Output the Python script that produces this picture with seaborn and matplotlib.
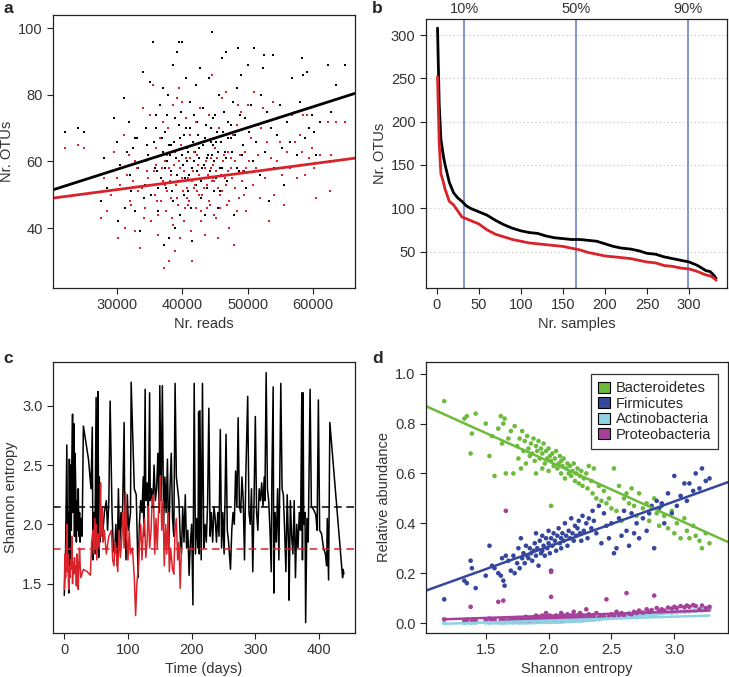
import numpy as np
import pandas as pd
import matplotlib
matplotlib.use("Agg")
import matplotlib.pyplot as plt
import seaborn as sns
from matplotlib.patches import Patch

# ---------------- data ----------------
# panel a: reads per sample and OTU counts (black / red)
reads = [22000, 24000, 25000, 27500, 28000, 28500, 29500, 30000, 30200, 31000,
         31200, 31800, 32000, 32500, 32800, 33000, 33500, 33800, 34000, 34300,
         34500, 34800, 35000, 35200, 35500, 35600, 35800, 36000, 36200, 36500,
         36700, 37000, 37100, 37200, 37400, 37500, 37700, 37800, 38000, 38200,
         38300, 38500, 38600, 38800, 38900, 39000, 39200, 39300, 39500, 39600,
         39700, 39800, 40000, 40100, 40300, 40500, 40600, 40800, 41000, 41200,
         41300, 41500, 41600, 41800, 42000, 42100, 42300, 42500, 42700, 42800,
         43000, 43200, 43400, 43500, 43700, 44000, 44100, 44300, 44500, 44600,
         44800, 45000, 45200, 45400, 45600, 45800, 46000, 46200, 46500, 46700,
         46800, 47000, 47200, 47500, 47700, 47900, 48000, 48300, 48500, 48700,
         49000, 49200, 49500, 49700, 50000, 50200, 50500, 50800, 51000, 51200,
         51500, 51800, 52000, 52300, 52500, 52700, 53000, 53300, 53500, 53800,
         54000, 54500, 55000, 55200, 55500, 56000, 56500, 56800, 57200, 57500,
         58000, 58300, 58500, 58700, 59000, 59300, 59800, 60200, 60500, 61000,
         62200, 62500, 62700, 63500, 64800, 33200, 34100, 34600, 35300, 35900,
         36300, 36800, 37300, 37600, 38100, 38400, 38700, 39100, 39400, 39900,
         40200, 40400, 40700, 40900, 41100, 41400, 41700, 41900, 42200, 42400,
         42600, 42900, 43100, 43300, 43600, 43900, 44200, 44400, 44700, 44900,
         45100, 45300, 45500, 45700, 45900, 46100, 46400, 46600, 46900, 47100,
         47400, 47600, 48100, 48400, 48800, 49100, 49400, 49800, 30500, 31500,
         32200, 32700, 29000, 36100, 37900, 40650, 43800, 44650]
otus_black = [69, 70, 69, 48, 61, 52, 73, 66, 42, 79,
              46, 72, 56, 64, 45, 67, 39, 60, 87, 53,
              70, 62, 84, 50, 96, 66, 58, 74, 45, 77,
              55, 82, 63, 35, 69, 52, 60, 80, 37, 65,
              57, 89, 48, 73, 40, 61, 93, 54, 96, 67,
              44, 75, 96, 59, 50, 70, 85, 63, 56, 78,
              46, 36, 66, 60, 83, 53, 72, 64, 88, 49,
              58, 76, 67, 44, 61, 85, 55, 70, 99, 62,
              51, 74, 66, 46, 80, 58, 91, 69, 63, 93,
              54, 72, 48, 67, 78, 44, 60, 82, 94, 57,
              86, 65, 73, 52, 89, 69, 77, 60, 94, 66,
              71, 56, 80, 88, 92, 63, 75, 48, 70, 92,
              58, 68, 77, 64, 53, 72, 66, 85, 75, 62,
              78, 91, 86, 67, 87, 70, 74, 69, 62, 72,
              89, 60, 75, 83, 89, 58, 49, 65, 61, 70,
              52, 67, 58, 74, 62, 51, 66, 56, 71, 62,
              68, 55, 64, 51, 70, 58, 74, 63, 57, 68,
              61, 54, 65, 59, 71, 62, 57, 66, 73, 60,
              55, 69, 63, 51, 66, 58, 75, 61, 67, 56,
              71, 63, 68, 58, 74, 62, 57, 70, 59, 63,
              51, 67, 57, 57, 65, 60, 52, 65]
otus_red = [64, 65, 64, 43, 55, 45, 63, 55, 37, 68,
            40, 62, 48, 54, 39, 58, 34, 52, 76, 46,
            60, 55, 74, 42, 83, 57, 50, 64, 38, 67,
            48, 72, 54, 28, 60, 45, 51, 70, 30, 56,
            49, 77, 41, 63, 33, 53, 79, 47, 82, 58,
            37, 65, 78, 51, 42, 61, 73, 55, 48, 68,
            39, 30, 57, 52, 72, 46, 62, 56, 76, 42,
            50, 66, 58, 38, 53, 74, 48, 61, 86, 54,
            44, 64, 57, 37, 70, 50, 79, 60, 55, 81,
            47, 63, 40, 58, 68, 35, 52, 71, 77, 49,
            75, 57, 63, 45, 77, 60, 67, 53, 81, 58,
            62, 49, 70, 76, 72, 55, 66, 42, 61, 78,
            50, 60, 66, 56, 47, 63, 58, 74, 66, 55,
            68, 63, 74, 56, 74, 61, 64, 58, 49, 62,
            72, 51, 62, 72, 72, 51, 43, 57, 53, 59,
            44, 58, 53, 62, 54, 43, 59, 49, 60, 55,
            57, 46, 52, 47, 61, 54, 63, 53, 51, 59,
            50, 45, 55, 52, 60, 56, 47, 58, 59, 54,
            43, 61, 52, 46, 56, 51, 62, 53, 57, 48,
            61, 55, 60, 45, 62, 54, 50, 58, 53, 56,
            47, 60, 50, 48, 58, 49, 46, 55]
fit_a_black = [38.83, 0.000627]   # intercept, slope
fit_a_red = [43.76, 0.0002596]

# panel b: OTUs per rank of samples
rank_b = [1, 3, 5, 8, 10, 15, 20, 25, 30, 35, 40, 50, 60, 70, 80, 90, 100, 110,
          120, 130, 140, 150, 160, 170, 180, 190, 200, 210, 220, 230, 240, 250,
          260, 270, 280, 290, 300, 310, 320, 325, 330, 332]
otus_rank_black = [308, 220, 180, 160, 150, 130, 118, 112, 108, 103, 100, 96, 92,
                   86, 81, 77, 74, 72, 71, 68, 66, 65, 64, 64, 63, 62, 59, 56, 54,
                   53, 51, 48, 47, 44, 42, 40, 38, 34, 28, 27, 22, 19]
otus_rank_red = [252, 175, 140, 130, 122, 108, 104, 97, 90, 88, 86, 82, 75, 70,
                 67, 64, 62, 60, 59, 58, 57, 56, 54, 52, 49, 47, 45, 44, 43, 42,
                 40, 38, 37, 34, 33, 31, 30, 27, 23, 22, 19, 17]
quantile_pos = [33, 166, 299]
quantile_labels = ["10%", "50%", "90%"]

# panel c: Shannon entropy over time
days_black = [0, 2, 4, 5, 6, 7, 8, 9, 10, 11, 12, 13, 14, 15, 16, 17, 18, 19, 20,
              21, 22, 23, 24, 25, 26, 28, 30, 38, 42, 44, 45, 47, 48, 50, 51, 52,
              53, 54, 55, 56, 58, 60, 63, 66, 68, 70, 72, 75, 77, 79, 81, 83, 85,
              87, 89, 91, 94, 95, 97, 99, 101, 104, 105, 110, 113, 116, 118, 120,
              122, 124, 125, 127, 128, 130, 132, 134, 135, 137, 139, 141, 143,
              145, 147, 149, 150, 152, 154, 156, 158, 160, 162, 164, 166, 168,
              170, 172, 174, 176, 178, 180, 182, 184, 186, 188, 190, 192, 194,
              196, 198, 200, 202, 204, 206, 208, 210, 211, 212, 213, 215, 217,
              219, 221, 223, 225, 227, 229, 231, 233, 235, 237, 239, 241, 243,
              245, 247, 249, 251, 254, 256, 258, 261, 263, 265, 267, 269, 271,
              273, 275, 277, 279, 281, 283, 285, 288, 290, 292, 294, 296, 298,
              300, 302, 304, 306, 308, 310, 312, 314, 315, 317, 319, 321, 323,
              325, 326, 328, 329, 331, 333, 335, 337, 340, 342, 344, 346, 348,
              350, 352, 353, 355, 357, 359, 361, 363, 365, 367, 369, 371, 373,
              374, 375, 376, 378, 379, 381, 383, 386, 388, 392, 395, 397, 399,
              401, 404, 407, 410, 412, 413, 415, 417, 437, 438, 439]
entropy_black = [1.40, 1.75, 2.67, 1.90, 2.10, 1.42, 2.55, 1.70, 2.50, 1.95, 2.60,
                 2.93, 2.10, 2.85, 1.90, 2.60, 2.30, 1.85, 2.20, 1.95, 2.30, 1.90,
                 2.10, 1.85, 2.05, 1.90, 2.83, 2.55, 2.30, 2.82, 1.70, 2.10, 1.75,
                 3.07, 2.00, 1.80, 3.12, 1.72, 2.40, 1.85, 2.00, 1.90, 2.10, 2.20,
                 1.95, 2.20, 3.04, 2.10, 1.80, 1.75, 2.00, 1.65, 2.30, 1.80, 2.10,
                 1.95, 2.86, 2.05, 1.70, 2.25, 1.95, 2.10, 3.20, 2.30, 2.25, 1.55,
                 2.00, 2.20, 2.10, 2.40, 1.90, 3.14, 2.20, 2.35, 2.05, 3.11, 2.20,
                 2.30, 2.15, 2.50, 2.20, 2.30, 2.60, 2.10, 3.17, 2.20, 3.17, 2.00,
                 2.40, 2.10, 2.55, 1.80, 2.30, 2.60, 2.05, 1.90, 3.19, 2.40, 2.30,
                 2.20, 1.90, 1.75, 2.15, 1.85, 2.25, 1.80, 1.95, 1.57, 1.85, 2.00,
                 1.32, 3.19, 1.75, 2.05, 1.80, 2.95, 1.75, 2.96, 1.70, 3.19, 1.80,
                 2.00, 1.85, 2.15, 2.98, 1.90, 2.10, 1.85, 2.15, 2.05, 1.85, 2.10,
                 1.90, 2.80, 1.80, 2.10, 1.75, 2.76, 1.95, 1.85, 1.62, 1.95, 2.10,
                 2.00, 2.45, 2.15, 2.90, 2.15, 2.10, 2.40, 2.20, 1.70, 2.40, 3.08,
                 2.10, 2.00, 2.30, 1.60, 2.20, 2.91, 2.10, 1.95, 2.30, 2.20, 2.35,
                 2.15, 2.40, 2.20, 3.28, 2.30, 2.20, 1.95, 1.60, 2.40, 3.16, 1.42,
                 2.10, 1.85, 2.30, 1.70, 3.19, 2.30, 2.25, 1.95, 1.60, 2.25, 1.85,
                 1.36, 2.20, 1.90, 1.75, 2.20, 1.55, 2.00, 1.80, 2.10, 1.95, 3.11,
                 1.70, 3.11, 2.00, 2.10, 1.17, 2.05, 1.85, 3.14, 2.15, 2.12, 2.08,
                 1.95, 3.05, 1.95, 1.92, 1.80, 1.75, 1.65, 2.05, 1.53, 2.86, 1.55,
                 1.62, 1.58]
days_red = [0, 1, 2, 3, 4, 5, 6, 7, 8, 9, 10, 11, 12, 13, 14, 15, 16, 17, 18, 19,
            20, 21, 22, 23, 24, 25, 26, 30, 36, 41, 43, 45, 46, 48, 49, 50, 51,
            53, 55, 56, 57, 58, 60, 61, 63, 66, 70, 74, 76, 78, 80, 82, 84, 86,
            88, 90, 92, 94, 96, 98, 100, 102, 104, 107, 110, 112, 114, 116, 118,
            120, 122, 124, 126, 128, 130, 132, 134, 136, 138, 140, 142, 144, 146,
            148, 150, 151, 153, 155, 157, 159, 161, 163, 165, 167, 170, 172, 174,
            176, 178, 180, 182, 184]
entropy_red = [1.45, 1.75, 1.55, 1.70, 2.00, 1.60, 1.75, 1.45, 1.65, 1.55, 1.70,
               1.62, 1.90, 1.50, 1.68, 1.58, 1.72, 1.60, 1.65, 1.48, 1.75, 1.62,
               1.45, 1.68, 1.80, 1.65, 1.55, 1.62, 1.60, 1.57, 1.85, 1.95, 1.75,
               2.05, 1.80, 2.00, 1.70, 1.92, 1.80, 2.10, 2.35, 1.90, 2.15, 1.85,
               1.95, 1.75, 1.90, 1.95, 1.70, 1.65, 1.85, 1.75, 1.60, 1.95, 1.72,
               1.85, 2.10, 1.80, 2.27, 1.90, 1.70, 1.95, 1.75, 1.80, 1.55, 1.23,
               1.50, 1.62, 1.85, 2.00, 1.70, 1.95, 2.05, 1.72, 1.85, 2.15, 1.80,
               1.92, 2.20, 2.25, 1.75, 2.05, 1.80, 2.10, 2.30, 2.41, 1.95, 2.20,
               1.65, 2.00, 1.75, 2.10, 1.60, 1.80, 1.62, 1.58, 1.95, 2.05, 1.70,
               1.85, 1.46, 1.80]
mean_black = 2.15
mean_red = 1.79

# panel d: relative abundance of phyla vs Shannon entropy
shannon = [1.17, 1.33, 1.35, 1.38, 1.39, 1.42, 1.50, 1.53, 1.55, 1.57, 1.60, 1.62,
           1.63, 1.64, 1.65, 1.66, 1.68, 1.70, 1.72, 1.73, 1.75, 1.76, 1.77, 1.78,
           1.79, 1.80, 1.81, 1.82, 1.83, 1.84, 1.85, 1.86, 1.87, 1.88, 1.89, 1.90,
           1.90, 1.91, 1.92, 1.93, 1.94, 1.95, 1.95, 1.96, 1.97, 1.98, 1.99, 2.00,
           2.00, 2.01, 2.02, 2.02, 2.03, 2.04, 2.05, 2.06, 2.07, 2.08, 2.09, 2.10,
           2.10, 2.11, 2.12, 2.13, 2.14, 2.15, 2.16, 2.17, 2.18, 2.19, 2.20, 2.21,
           2.22, 2.23, 2.24, 2.25, 2.26, 2.27, 2.28, 2.30, 2.31, 2.32, 2.34, 2.35,
           2.36, 2.38, 2.40, 2.42, 2.44, 2.46, 2.48, 2.50, 2.52, 2.54, 2.56, 2.58,
           2.60, 2.62, 2.64, 2.66, 2.68, 2.70, 2.72, 2.75, 2.78, 2.80, 2.82, 2.84,
           2.86, 2.88, 2.90, 2.92, 2.95, 2.98, 3.00, 3.02, 3.05, 3.08, 3.10, 3.12,
           3.15, 3.17, 3.20, 3.22, 3.25, 3.28]
bacteroidetes = [0.89, 0.82, 0.83, 0.68, 0.76, 0.84, 0.80, 0.67, 0.75, 0.59, 0.78,
                 0.83, 0.72, 0.80, 0.82, 0.60, 0.74, 0.77, 0.60, 0.79, 0.71, 0.66,
                 0.74, 0.62, 0.77, 0.69, 0.73, 0.64, 0.75, 0.70, 0.67, 0.72, 0.68,
                 0.74, 0.65, 0.71, 0.60, 0.69, 0.73, 0.66, 0.70, 0.62, 0.68, 0.72,
                 0.64, 0.69, 0.66, 0.70, 0.61, 0.67, 0.65, 0.47, 0.68, 0.63, 0.66,
                 0.69, 0.62, 0.64, 0.67, 0.60, 0.65, 0.63, 0.66, 0.58, 0.62, 0.64,
                 0.60, 0.63, 0.59, 0.61, 0.64, 0.57, 0.60, 0.62, 0.56, 0.59, 0.61,
                 0.55, 0.58, 0.60, 0.54, 0.63, 0.57, 0.52, 0.62, 0.50, 0.55, 0.49,
                 0.53, 0.48, 0.50, 0.46, 0.62, 0.45, 0.55, 0.41, 0.50, 0.52, 0.48,
                 0.54, 0.47, 0.43, 0.52, 0.46, 0.48, 0.41, 0.46, 0.50, 0.44, 0.39,
                 0.47, 0.43, 0.38, 0.45, 0.36, 0.40, 0.34, 0.42, 0.37, 0.34, 0.39,
                 0.35, 0.33, 0.30, 0.36, 0.32]
firmicutes = [0.095, 0.17, 0.16, 0.25, 0.22, 0.14, 0.19, 0.31, 0.23, 0.22, 0.20,
              0.19, 0.26, 0.17, 0.15, 0.27, 0.25, 0.21, 0.27, 0.20, 0.24, 0.30,
              0.22, 0.34, 0.26, 0.28, 0.24, 0.31, 0.27, 0.26, 0.30, 0.28, 0.25,
              0.29, 0.32, 0.27, 0.36, 0.30, 0.23, 0.33, 0.28, 0.35, 0.29, 0.31,
              0.27, 0.34, 0.30, 0.32, 0.37, 0.28, 0.34, 0.21, 0.31, 0.36, 0.33,
              0.29, 0.35, 0.38, 0.32, 0.34, 0.30, 0.36, 0.33, 0.40, 0.35, 0.31,
              0.37, 0.34, 0.42, 0.36, 0.33, 0.39, 0.35, 0.38, 0.41, 0.36, 0.33,
              0.43, 0.37, 0.40, 0.34, 0.42, 0.38, 0.45, 0.41, 0.36, 0.47, 0.32,
              0.44, 0.39, 0.34, 0.40, 0.28, 0.30, 0.42, 0.35, 0.45, 0.37, 0.31,
              0.44, 0.36, 0.40, 0.34, 0.42, 0.37, 0.44, 0.47, 0.30, 0.49, 0.46,
              0.48, 0.40, 0.52, 0.44, 0.59, 0.47, 0.51, 0.56, 0.49, 0.56, 0.53,
              0.60, 0.54, 0.62, 0.57, 0.58]
actinobacteria = [0.000, 0.000, 0.002, 0.001, 0.000, 0.001, 0.002, 0.001, 0.003,
                  0.002, 0.001, 0.002, 0.003, 0.002, 0.001, 0.004, 0.002, 0.003,
                  0.002, 0.003, 0.004, 0.002, 0.003, 0.004, 0.003, 0.002, 0.003,
                  0.004, 0.003, 0.004, 0.003, 0.005, 0.004, 0.003, 0.004, 0.005,
                  0.006, 0.004, 0.005, 0.006, 0.004, 0.005, 0.006, 0.005, 0.004,
                  0.006, 0.005, 0.006, 0.007, 0.005, 0.006, 0.006, 0.006, 0.007,
                  0.006, 0.005, 0.007, 0.006, 0.008, 0.007, 0.006, 0.008, 0.007,
                  0.008, 0.009, 0.008, 0.009, 0.008, 0.010, 0.009, 0.010, 0.009,
                  0.011, 0.010, 0.011, 0.012, 0.010, 0.012, 0.011, 0.013, 0.012,
                  0.013, 0.014, 0.015, 0.013, 0.016, 0.015, 0.018, 0.020, 0.019,
                  0.022, 0.021, 0.025, 0.023, 0.026, 0.024, 0.028, 0.027, 0.030,
                  0.029, 0.031, 0.030, 0.033, 0.032, 0.035, 0.034, 0.036, 0.038,
                  0.037, 0.040, 0.039, 0.041, 0.042, 0.040, 0.044, 0.043, 0.046,
                  0.045, 0.048, 0.047, 0.050, 0.049, 0.052, 0.051, 0.053, 0.055]
proteobacteria = [0.015, 0.010, 0.012, 0.065, 0.010, 0.008, 0.012, 0.018, 0.010,
                  0.012, 0.085, 0.010, 0.015, 0.090, 0.012, 0.450, 0.010, 0.015,
                  0.012, 0.010, 0.020, 0.015, 0.012, 0.010, 0.018, 0.020, 0.012,
                  0.025, 0.015, 0.010, 0.020, 0.018, 0.012, 0.022, 0.015, 0.030,
                  0.018, 0.012, 0.025, 0.020, 0.015, 0.030, 0.018, 0.022, 0.015,
                  0.040, 0.020, 0.025, 0.018, 0.030, 0.105, 0.205, 0.020, 0.025,
                  0.015, 0.030, 0.020, 0.025, 0.018, 0.040, 0.022, 0.015, 0.030,
                  0.025, 0.020, 0.035, 0.018, 0.025, 0.030, 0.020, 0.045, 0.025,
                  0.018, 0.030, 0.022, 0.040, 0.025, 0.030, 0.020, 0.055, 0.025,
                  0.035, 0.020, 0.030, 0.025, 0.040, 0.022, 0.030, 0.025, 0.095,
                  0.030, 0.035, 0.028, 0.045, 0.032, 0.040, 0.030, 0.120, 0.038,
                  0.035, 0.045, 0.040, 0.050, 0.042, 0.055, 0.045, 0.052, 0.110,
                  0.060, 0.048, 0.055, 0.050, 0.062, 0.058, 0.065, 0.060, 0.068,
                  0.063, 0.070, 0.065, 0.072, 0.068, 0.055, 0.070, 0.060, 0.065]
phyla = ["Bacteroidetes", "Firmicutes", "Actinobacteria", "Proteobacteria"]
fit_d = {"Bacteroidetes": [1.1026, -0.2269], "Firmicutes": [-0.0556, 0.1811],
         "Actinobacteria": [-0.0213, 0.01564], "Proteobacteria": [-0.0044, 0.0166]}

# ---------------- style ----------------
sns.set_style("ticks")
plt.rcParams["font.family"] = ["Liberation Sans", "DejaVu Sans"]
plt.rcParams.update({
    "axes.edgecolor": "#222222", "axes.linewidth": 0.9,
    "xtick.color": "#222222", "ytick.color": "#222222",
    "xtick.labelcolor": "#333333", "ytick.labelcolor": "#333333",
    "xtick.major.size": 4, "ytick.major.size": 4,
    "xtick.major.width": 0.8, "ytick.major.width": 0.8,
    "xtick.direction": "out", "ytick.direction": "out",
    "xtick.major.pad": 3.5, "ytick.major.pad": 3.5,
    "font.size": 10.5, "axes.labelsize": 10.5,
    "xtick.labelsize": 10.5, "ytick.labelsize": 10.5,
    "axes.labelcolor": "#333333", "axes.labelpad": 3,
})

RED = "#d8232a"
GREEN = "#6cbb3c"
BLUE = "#34479c"
CYAN = "#8ed2e3"
MAGENTA = "#a5419a"
QBLUE = "#7183c6"
pal = {"Bacteroidetes": GREEN, "Firmicutes": BLUE,
       "Actinobacteria": CYAN, "Proteobacteria": MAGENTA}

fig = plt.figure(figsize=(7.29, 6.77), dpi=100)
W, H = 729, 677
def ax_at(l, t, r, b):
    return fig.add_axes([l / W, 1 - b / H, (r - l) / W, (b - t) / H])

ax_a = ax_at(53, 15, 355, 288)
ax_b = ax_at(426, 19, 727, 288)
ax_c = ax_at(53, 362, 355, 633)
ax_d = ax_at(426, 362, 728, 633)

for ax in (ax_a, ax_b, ax_c, ax_d):
    for s in ax.spines.values():
        s.set_visible(True)
        s.set_color("#222222")
    ax.tick_params(top=False, right=False)

# ---- panel a ----
df_a = pd.DataFrame({"reads": reads, "black": otus_black, "red": otus_red})
sns.scatterplot(data=df_a, x="reads", y="black", color="black", marker="s",
                s=4, linewidth=0, ax=ax_a)
sns.scatterplot(data=df_a, x="reads", y="red", color=RED, marker="s",
                s=4, linewidth=0, ax=ax_a)
ax_a.set_xlim(20200, 66400)
ax_a.set_ylim(22, 104)
xx = np.array(ax_a.get_xlim())
sns.lineplot(x=xx, y=fit_a_black[0] + fit_a_black[1] * xx, color="black", lw=2, ax=ax_a)
sns.lineplot(x=xx, y=fit_a_red[0] + fit_a_red[1] * xx, color=RED, lw=2, ax=ax_a)
ax_a.set_xticks([30000, 40000, 50000, 60000])
ax_a.set_yticks([40, 60, 80, 100])
ax_a.set_xlabel("Nr. reads")
ax_a.set_ylabel("Nr. OTUs")

# ---- panel b ----
for y in [50, 100, 150, 200, 250, 300]:
    ax_b.axhline(y, color="#c4c4c4", lw=0.8, ls=(0, (1, 2.5)), zorder=0)
for q, lab in zip(quantile_pos, quantile_labels):
    ax_b.axvline(q, color=QBLUE, lw=1.2, zorder=1)
    ax_b.text(q, 1.012, lab, transform=ax_b.get_xaxis_transform(),
              ha="center", va="bottom", fontsize=10.5, color="#333333")
df_b = pd.DataFrame({"rank": rank_b, "black": otus_rank_black, "red": otus_rank_red})
sns.lineplot(data=df_b, x="rank", y="black", color="black", lw=2, ax=ax_b, zorder=3)
sns.lineplot(data=df_b, x="rank", y="red", color=RED, lw=2, ax=ax_b, zorder=3)
ax_b.set_xlim(-12.7, 345)
ax_b.set_ylim(8, 318.5)
ax_b.set_xticks([0, 50, 100, 150, 200, 250, 300])
ax_b.set_yticks([50, 100, 150, 200, 250, 300])
ax_b.set_xlabel("Nr. samples")
ax_b.set_ylabel("Nr. OTUs")

# ---- panel c ----
df_cb = pd.DataFrame({"day": days_black, "H": entropy_black})
df_cr = pd.DataFrame({"day": days_red, "H": entropy_red})
sns.lineplot(data=df_cb, x="day", y="H", color="black", lw=1.1,
             estimator=None, sort=False, ax=ax_c)
sns.lineplot(data=df_cr, x="day", y="H", color=RED, lw=1.1,
             estimator=None, sort=False, ax=ax_c)
ax_c.axhline(mean_black, color="black", lw=1.1, ls=(0, (5, 3)))
ax_c.axhline(mean_red, color=RED, lw=1.1, ls=(0, (5, 3)))
ax_c.set_xlim(-17.7, 456.5)
ax_c.set_ylim(1.083, 3.37)
ax_c.set_xticks([0, 100, 200, 300, 400])
ax_c.set_yticks([1.5, 2.0, 2.5, 3.0])
ax_c.set_xlabel("Time (days)")
ax_c.set_ylabel("Shannon entropy")

# ---- panel d ----
df_d = pd.DataFrame({"Shannon": shannon, "Bacteroidetes": bacteroidetes,
                     "Firmicutes": firmicutes, "Actinobacteria": actinobacteria,
                     "Proteobacteria": proteobacteria})
long_d = df_d.melt(id_vars="Shannon", var_name="phylum", value_name="abundance")
sns.scatterplot(data=long_d, x="Shannon", y="abundance", hue="phylum",
                hue_order=phyla, palette=pal, s=11, linewidth=0, legend=False, ax=ax_d)
ax_d.set_xlim(1.025, 3.427)
ax_d.set_ylim(-0.040, 1.047)
full = np.array(ax_d.get_xlim())
span = np.array([min(shannon), max(shannon)])
for ph in ["Bacteroidetes", "Firmicutes"]:
    a0, a1 = fit_d[ph]
    sns.lineplot(x=full, y=a0 + a1 * full, color=pal[ph], lw=1.8, ax=ax_d)
for ph in ["Actinobacteria", "Proteobacteria"]:
    a0, a1 = fit_d[ph]
    sns.lineplot(x=span, y=a0 + a1 * span, color=pal[ph], lw=1.8, ax=ax_d)
ax_d.set_xticks([1.5, 2.0, 2.5, 3.0])
ax_d.set_yticks([0.0, 0.2, 0.4, 0.6, 0.8, 1.0])
ax_d.set_xlabel("Shannon entropy")
ax_d.set_ylabel("Relative abundance")
handles = [Patch(facecolor=pal[p], edgecolor="black", linewidth=0.8, label=p) for p in phyla]
leg = ax_d.legend(handles=handles, loc="upper right", fontsize=10.5, frameon=True,
                  fancybox=False, edgecolor="black", handlelength=0.8, handleheight=0.8,
                  handletextpad=0.4, labelspacing=0.1, borderpad=0.5,
                  bbox_to_anchor=(0.992, 0.982))
leg.get_frame().set_linewidth(0.9)

# panel letters
for lab, (x, y) in zip("abcd", [(3, 1), (372, 1), (3, 351), (372, 351)]):
    fig.text(x / W, 1 - y / H, lab, fontsize=12.5, fontweight="bold", va="top", ha="left")

fig.savefig("out.png", dpi=100)
